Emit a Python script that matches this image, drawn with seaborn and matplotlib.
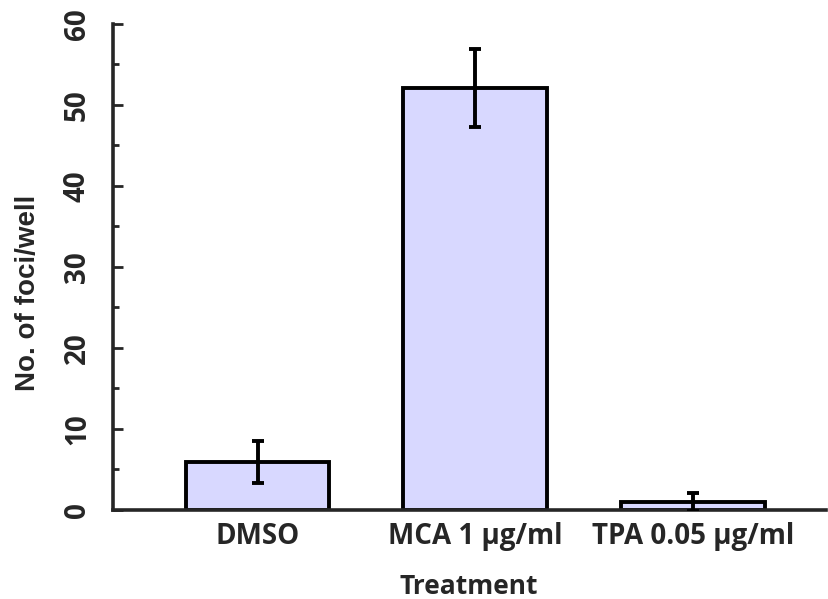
import matplotlib
matplotlib.use("Agg")
import matplotlib.pyplot as plt
import seaborn as sns
import pandas as pd
from matplotlib.ticker import MultipleLocator

# ---------- DATA ----------
treatments = ["DMSO", "MCA 1 \u00b5g/ml", "TPA 0.05 \u00b5g/ml"]
foci_mean = [5.9, 52.1, 1.0]
foci_err = [2.6, 4.8, 1.1]

df = pd.DataFrame({"Treatment": treatments, "foci": foci_mean})

# ---------- STYLE ----------
sns.set_style("ticks")
plt.rcParams["font.family"] = ["Open Sans", "DejaVu Sans"]
plt.rcParams["font.weight"] = "bold"

fig = plt.figure(figsize=(8.29, 5.99), dpi=100)
ax = fig.add_axes([0.136, 0.149, 0.86, 0.811])

sns.barplot(data=df, x="Treatment", y="foci", color="#D8D8FF", saturation=1,
            width=0.66, edgecolor="black", linewidth=2.8, ax=ax, zorder=2)
ax.errorbar(range(len(treatments)), foci_mean, yerr=foci_err, fmt="none",
            ecolor="black", elinewidth=2.8, capsize=4, capthick=2.8, zorder=3)

# ---------- AXES ----------
ax.set_xlim(-0.665, 2.61)
ax.set_ylim(0, 60)
ax.yaxis.set_major_locator(MultipleLocator(10))
ax.yaxis.set_minor_locator(MultipleLocator(5))
ax.tick_params(axis="y", which="major", direction="in", length=7, width=2, pad=15, labelsize=20)
ax.tick_params(axis="y", which="minor", direction="in", length=4, width=2)
ax.tick_params(axis="x", length=0, pad=9, labelsize=20)
for lbl in ax.get_yticklabels():
    lbl.set_rotation(90)
    lbl.set_va("center")
    lbl.set_fontweight("bold")
for lbl in ax.get_xticklabels():
    lbl.set_fontweight("bold")

for side in ["top", "right"]:
    ax.spines[side].set_visible(False)
for side in ["left", "bottom"]:
    ax.spines[side].set_linewidth(2.6)

ax.set_xlabel("Treatment", fontsize=19, fontweight="bold", labelpad=16)
ax.set_ylabel("No. of foci/well", fontsize=20, fontweight="bold",
              family=["Liberation Sans", "DejaVu Sans"])
ax.yaxis.set_label_coords(-0.101, 0.447)

plt.savefig("out.png", dpi=100)
